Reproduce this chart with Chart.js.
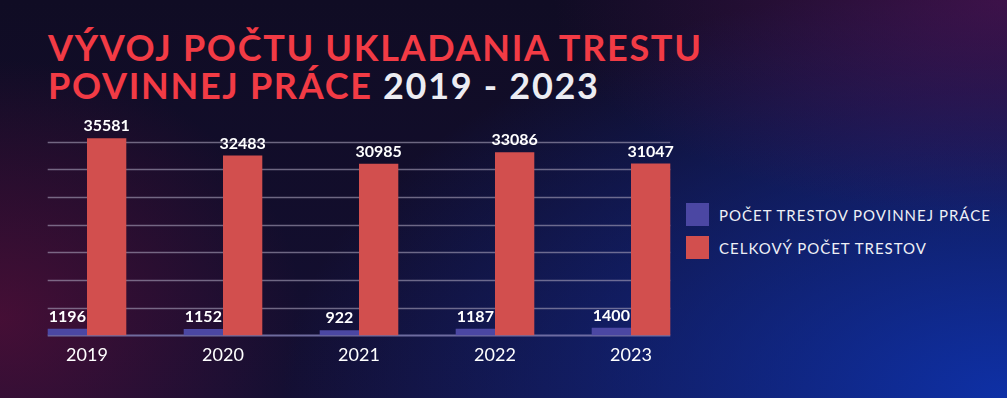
<!DOCTYPE html>
<html>
<head>
<meta charset="utf-8">
<script src="https://cdn.jsdelivr.net/npm/chart.js@4"></script>
<style>
html, body { margin: 0; padding: 0; width: 1007px; height: 398px; overflow: hidden; }
body {
  position: relative;
  background:
    radial-gradient(ellipse 30% 65% at 0% 80%, rgba(110,14,58,0.55), rgba(110,14,58,0) 100%),
    radial-gradient(ellipse 45% 55% at 100% 0%, rgba(85,20,90,0.65), rgba(85,20,90,0) 100%),
    radial-gradient(ellipse 72% 105% at 100% 100%, rgba(14,50,172,0.95), rgba(14,50,172,0) 100%),
    linear-gradient(180deg, #100c24 0%, #140f33 100%);
}
#title {
  position: absolute; left: 48px; top: 28px; margin: 0;
  font-family: Lato, sans-serif; font-weight: 700; font-size: 36px;
  line-height: 38px; letter-spacing: 1.7px; color: #f23b45; white-space: nowrap;
}
#title .yr { color: #ececf2; }
#legend { position: absolute; left: 686px; top: 203px; font-family: Lato, sans-serif; }
#legend .item { display: flex; align-items: center; height: 23px; margin-bottom: 10px; }
#legend .box { width: 23px; height: 23px; margin-right: 10px; flex: none; }
#legend .txt { color: #eef0f6; font-size: 15px; letter-spacing: 1px; white-space: nowrap; }
canvas { position: absolute; left: 0; top: 0; }
</style>
</head>
<body>
<h1 id="title">VÝVOJ POČTU UKLADANIA TRESTU<br>POVINNEJ PRÁCE <span class="yr">2019 - 2023</span></h1>
<div id="legend"></div>
<canvas id="c" width="1007" height="398"></canvas>
<script>
const categories = ['2019', '2020', '2021', '2022', '2023'];
const communityServiceSentences = [1196, 1152, 922, 1187, 1400];
const totalSentences = [35581, 32483, 30985, 33086, 31047];
const seriesLabels = ['POČET TRESTOV POVINNEJ PRÁCE', 'CELKOVÝ POČET TRESTOV'];
const seriesColors = ['#4b47a3', '#d24f4e'];
const gridValues = [0, 5000, 10000, 15000, 20000, 25000, 30000, 35000];
const axisMax = 36000;

const gridPlugin = {
  id: 'partialGrid',
  beforeDatasetsDraw(chart) {
    const ctx = chart.ctx;
    const y = chart.scales.y;
    const m0 = chart.getDatasetMeta(0).data;
    const m1 = chart.getDatasetMeta(1).data;
    const first = m0[0], last = m1[m1.length - 1];
    const x0 = first.x - first.width / 2;
    const x1 = last.x + last.width / 2;
    ctx.save();
    gridValues.forEach(v => {
      const py = Math.round(y.getPixelForValue(v)) + 0.5;
      ctx.strokeStyle = v === 0 ? 'rgba(120,118,170,0.9)' : 'rgba(170,163,188,0.6)';
      ctx.lineWidth = v === 0 ? 2 : 1.5;
      ctx.beginPath();
      ctx.moveTo(x0, py);
      ctx.lineTo(x1, py);
      ctx.stroke();
    });
    ctx.restore();
  }
};

const valueLabelPlugin = {
  id: 'valueLabels',
  afterDatasetsDraw(chart) {
    const ctx = chart.ctx;
    ctx.save();
    ctx.font = '700 16px Lato, sans-serif';
    ctx.fillStyle = '#ffffff';
    ctx.textAlign = 'center';
    ctx.textBaseline = 'bottom';
    chart.data.datasets.forEach((ds, i) => {
      chart.getDatasetMeta(i).data.forEach((bar, j) => {
        ctx.fillText(String(ds.data[j]), bar.x, bar.y - 4);
      });
    });
    ctx.restore();
  }
};

const chart = new Chart(document.getElementById('c'), {
  type: 'bar',
  data: {
    labels: categories,
    datasets: [
      { label: seriesLabels[0], data: communityServiceSentences, backgroundColor: seriesColors[0] },
      { label: seriesLabels[1], data: totalSentences, backgroundColor: seriesColors[1] }
    ]
  },
  options: {
    responsive: false,
    animation: false,
    devicePixelRatio: 1,
    layout: { padding: { left: 19, right: 308, top: 136, bottom: 31 } },
    datasets: { bar: { barPercentage: 1, categoryPercentage: 0.578 } },
    plugins: { legend: { display: false }, title: { display: false }, tooltip: { enabled: false } },
    scales: {
      x: {
        grid: { display: false },
        border: { display: false },
        ticks: { color: '#ffffff', padding: 1, font: { family: 'Lato', size: 18 } }
      },
      y: {
        display: false,
        min: 0,
        max: axisMax
      }
    }
  },
  plugins: [gridPlugin, valueLabelPlugin]
});

const legend = document.getElementById('legend');
chart.data.datasets.forEach(ds => {
  const item = document.createElement('div');
  item.className = 'item';
  const box = document.createElement('span');
  box.className = 'box';
  box.style.background = ds.backgroundColor;
  const txt = document.createElement('span');
  txt.className = 'txt';
  txt.textContent = ds.label;
  item.appendChild(box);
  item.appendChild(txt);
  legend.appendChild(item);
});
</script>
</body>
</html>
